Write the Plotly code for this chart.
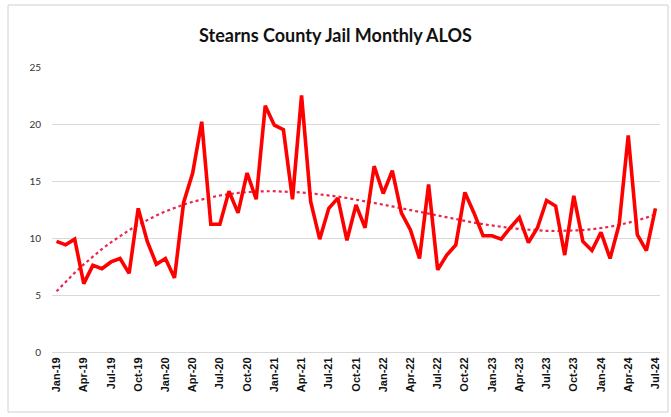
import numpy as np
import plotly.graph_objects as go

months = []
for yr in range(19, 25):
    for m in ["Jan", "Feb", "Mar", "Apr", "May", "Jun", "Jul", "Aug", "Sep", "Oct", "Nov", "Dec"]:
        months.append(f"{m}-{yr}")
months = months[:67]  # Jan-19 .. Jul-24

alos = [
    9.7, 9.4, 9.9, 6.0, 7.6, 7.3, 7.9, 8.2, 6.9, 12.6, 9.7, 7.7,      # 2019
    8.2, 6.5, 13.1, 15.7, 20.2, 11.2, 11.2, 14.1, 12.2, 15.7, 13.4, 21.6,  # 2020
    19.9, 19.5, 13.4, 22.5, 13.2, 9.9, 12.6, 13.5, 9.8, 12.9, 10.9, 16.3,  # 2021
    13.9, 15.9, 12.2, 10.7, 8.2, 14.7, 7.2, 8.5, 9.4, 14.0, 12.2, 10.2,    # 2022
    10.2, 9.9, 10.9, 11.8, 9.6, 10.9, 13.3, 12.8, 8.5, 13.7, 9.7, 8.9,     # 2023
    10.5, 8.2, 11.2, 19.0, 10.3, 8.9, 12.6,                              # 2024
]

tick_labels = months[::3]
y_ticks = [0, 5, 10, 15, 20, 25]

idx = np.arange(len(alos))
coef = np.polyfit(idx, alos, 3)
trend = np.polyval(coef, idx)

fig = go.Figure()
fig.add_trace(go.Scatter(x=months, y=trend, mode="lines",
                         line=dict(color="#e8264e", width=2.2, dash="dot"),
                         hoverinfo="skip", showlegend=False))
fig.add_trace(go.Scatter(x=months, y=alos, mode="lines",
                         line=dict(color="#ff0000", width=3.6),
                         showlegend=False))

fig.update_layout(
    width=671, height=417,
    margin=dict(l=52, r=11, t=67, b=65),
    paper_bgcolor="white", plot_bgcolor="white",
    title=dict(text="<b>Stearns County Jail Monthly ALOS</b>",
               x=0.5, xanchor="center", y=1 - 36 / 417, yanchor="middle",
               font=dict(family="Lato, sans-serif", size=18, color="#111111")),
    xaxis=dict(type="category", categoryorder="array", categoryarray=months,
               range=[-0.5, len(months) - 0.5],
               tickmode="array", tickvals=tick_labels,
               ticktext=[f"<b>{t}</b>" for t in tick_labels],
               tickangle=-90,
               tickfont=dict(family="Liberation Sans, Arial, sans-serif", size=11, color="#111111"),
               showgrid=False, showline=True, linecolor="#d9d9d9", linewidth=1,
               ticks="", ticklen=0),
    yaxis=dict(range=[0, 25], tickmode="array", tickvals=y_ticks,
               tickfont=dict(family="Lato, sans-serif", size=10, color="#333333"),
               showgrid=True, gridcolor="#d9d9d9", gridwidth=1,
               zeroline=False, showline=False, ticks="", ticklabelstandoff=10),
    shapes=[dict(type="rect", xref="paper", yref="paper",
                 x0=-44 / 608, x1=1 + 8 / 608, y0=-60 / 285, y1=1 + 62 / 285,
                 line=dict(color="#d0d0d0", width=1))],
)

fig.write_html("out.html", config={"displayModeBar": False},
               post_script="document.body.style.margin='0';")
